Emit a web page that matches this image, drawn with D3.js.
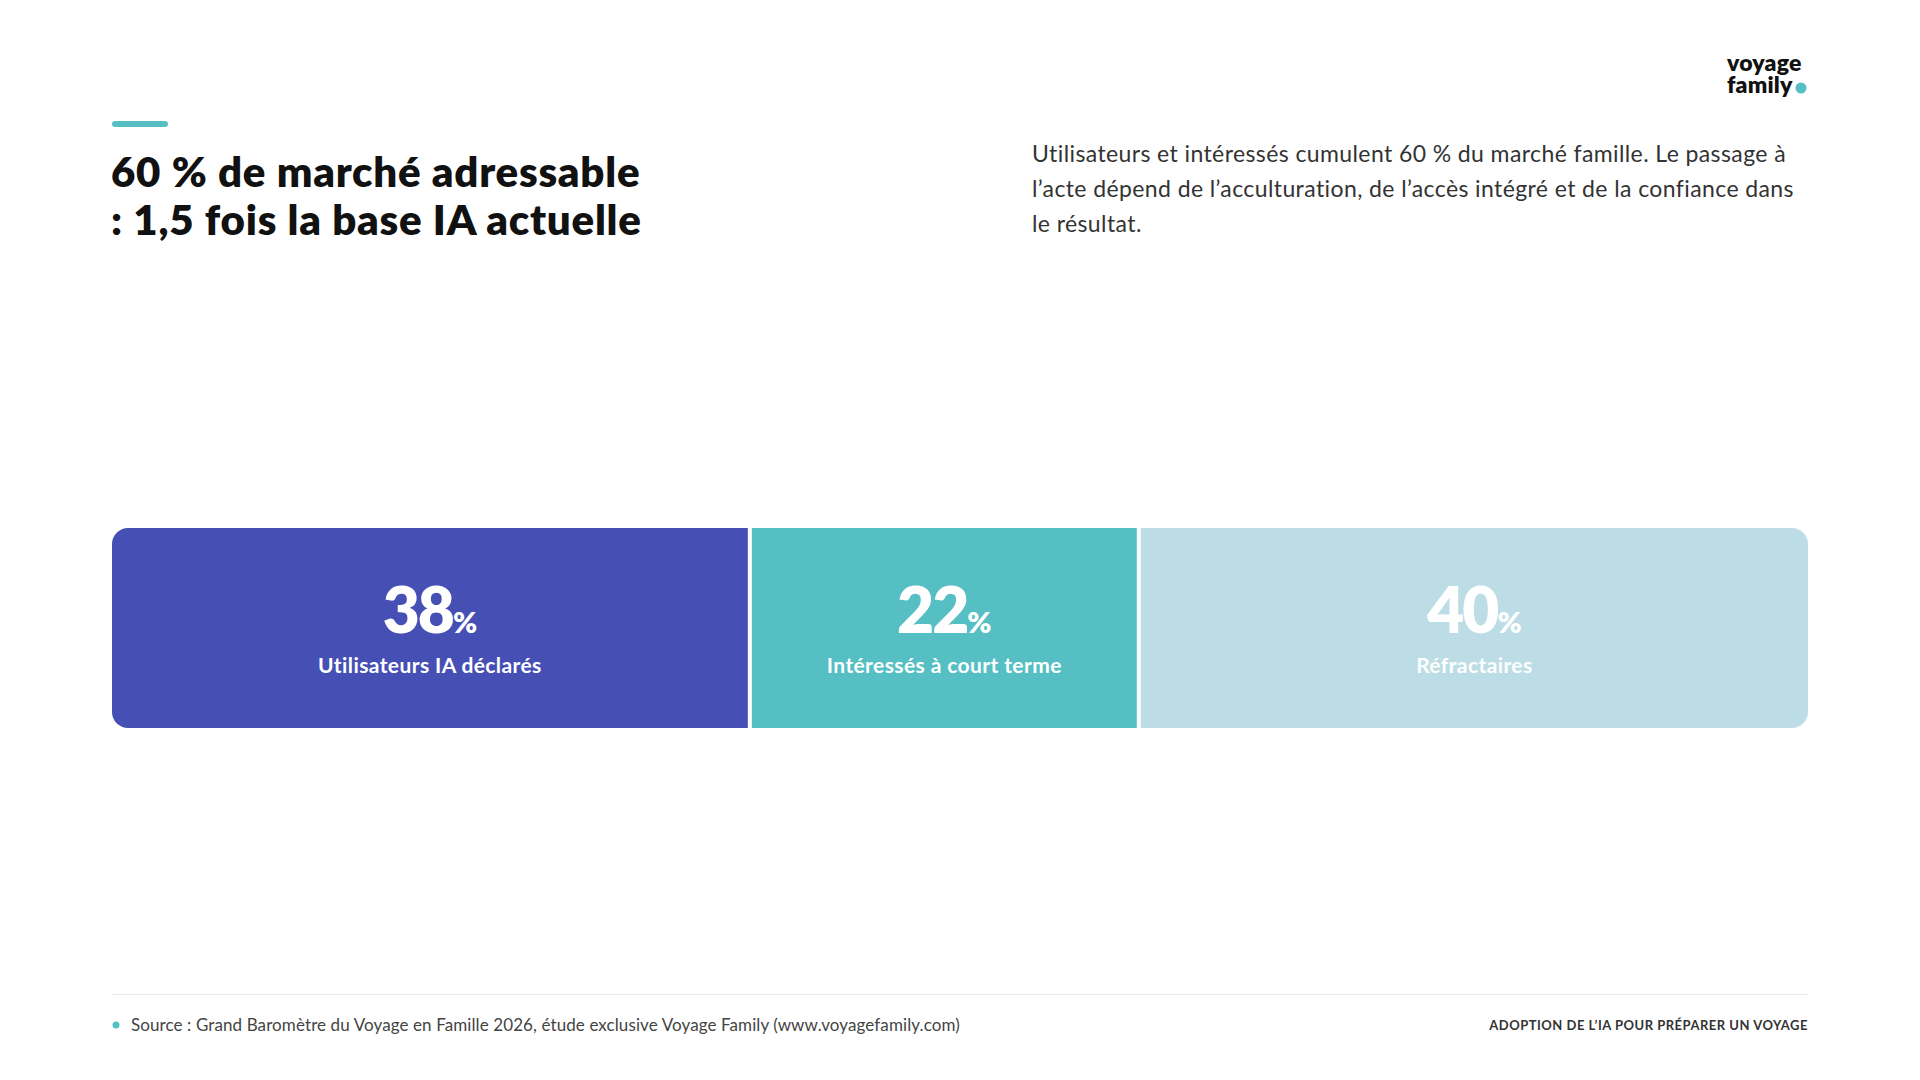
<!DOCTYPE html>
<html lang="fr">
    <head>
        <meta charset="utf-8">
        <title>Marché adressable IA</title>
        <script src="https://d3js.org/d3.v7.min.js"></script>
        <style type="text/css">
            html, body {
                margin: 0;
                padding: 0;
                background-color: #ffffff;
            }
            svg {
                display: block;
                font-family: Lato, "Open Sans", sans-serif;
            }
        </style>
    </head>
    <body>
        <script type="text/javascript">
            // data
            const categories = ["Utilisateurs IA déclarés", "Intéressés à court terme", "Réfractaires"];
            const values = [38, 22, 40];
            const colors = ["#464fb4", "#55bfc4", "#bcdde5"];

            const titleLines = ["60 % de marché adressable", ": 1,5 fois la base IA actuelle"];
            const introLines = [
                "Utilisateurs et intéressés cumulent 60 % du marché famille. Le passage à",
                "l’acte dépend de l’acculturation, de l’accès intégré et de la confiance dans",
                "le résultat."
            ];
            const sourceText = "Source : Grand Baromètre du Voyage en Famille 2026, étude exclusive Voyage Family (www.voyagefamily.com)";
            const footerTag = "ADOPTION DE L’IA POUR PRÉPARER UN VOYAGE";

            const w = 1920, h = 1080;
            const left = 112, right = 1808;
            const teal = "#55bfc4";

            const svg = d3.select("body").append("svg")
                          .attr("width", w)
                          .attr("height", h);

            // accent bar + title
            svg.append("rect")
               .attr("x", left).attr("y", 121)
               .attr("width", 56).attr("height", 6)
               .attr("rx", 3)
               .attr("fill", teal);

            svg.append("g").selectAll("text")
               .data(titleLines)
               .enter()
               .append("text")
               .attr("x", left - 1)
               .attr("y", (d, i) => 187 + i * 48)
               .attr("font-size", 42)
               .attr("font-weight", 800)
               .attr("letter-spacing", 0.75)
               .attr("fill", "#111111")
               .text(d => d);

            // intro paragraph
            svg.append("g").selectAll("text")
               .data(introLines)
               .enter()
               .append("text")
               .attr("x", 1032)
               .attr("y", (d, i) => 162 + i * 35)
               .attr("font-size", 23)
               .attr("letter-spacing", 0.4)
               .attr("fill", "#333333")
               .text(d => d);

            // logo (one text, two lines)
            const logo = svg.append("text")
                            .attr("font-weight", 800)
                            .attr("fill", "#111111")
                            .attr("font-size", 23)
                            .attr("letter-spacing", 0.2);
            logo.append("tspan").attr("x", 1727).attr("y", 71).text("voyage");
            logo.append("tspan").attr("x", 1727).attr("y", 93).text("family");
            svg.append("circle").attr("cx", 1801).attr("cy", 88).attr("r", 5.5).attr("fill", teal);

            // stacked bar: flex-like segments (padding + share of remaining width)
            const pad = 20, gap = 4;
            const inner = (right - left) - gap * (values.length - 1) - values.length * 2 * pad;
            const x = d3.scaleLinear().domain([0, d3.sum(values)]).range([0, inner]);
            const barTop = 528, barH = 200;

            let cursor = left;
            const segs = values.map((v, i) => {
                const width = 2 * pad + x(v);
                const seg = { label: categories[i], value: v, color: colors[i], x0: cursor, width: width };
                cursor += width + gap;
                return seg;
            });

            svg.append("clipPath").attr("id", "barClip")
               .append("rect")
               .attr("x", left).attr("y", barTop)
               .attr("width", right - left).attr("height", barH)
               .attr("rx", 16);

            const bars = svg.append("g").attr("clip-path", "url(#barClip)")
                            .selectAll("g.seg")
                            .data(segs)
                            .enter()
                            .append("g")
                            .attr("class", "seg");

            bars.append("rect")
                .attr("x", d => d.x0)
                .attr("y", barTop)
                .attr("width", d => d.width)
                .attr("height", barH)
                .attr("fill", d => d.color);

            const num = bars.append("text")
                .attr("x", d => d.x0 + d.width / 2)
                .attr("y", barTop + 105)
                .attr("text-anchor", "middle")
                .attr("fill", "#ffffff")
                .attr("font-weight", 800);
            num.append("tspan").attr("font-size", 64).attr("letter-spacing", -2).text(d => d.value);
            num.append("tspan").attr("font-size", 29).text("%");

            bars.append("text")
                .attr("x", d => d.x0 + d.width / 2)
                .attr("y", barTop + 145)
                .attr("text-anchor", "middle")
                .attr("fill", "#ffffff")
                .attr("font-size", 21)
                .attr("font-weight", 700)
                .attr("letter-spacing", 0.4)
                .text(d => d.label);

            // footer
            svg.append("line")
               .attr("x1", left).attr("x2", right)
               .attr("y1", 994.5).attr("y2", 994.5)
               .attr("stroke", "#e9e9e9").attr("stroke-width", 1);

            svg.append("circle").attr("cx", 116).attr("cy", 1025).attr("r", 3.5).attr("fill", teal);

            svg.append("text")
               .attr("x", 131).attr("y", 1031)
               .attr("font-size", 17)
               .attr("letter-spacing", 0.1)
               .attr("fill", "#444444")
               .text(sourceText);

            svg.append("text")
               .attr("x", right).attr("y", 1030)
               .attr("text-anchor", "end")
               .attr("font-size", 13)
               .attr("font-weight", 700)
               .attr("letter-spacing", 0.5)
               .attr("fill", "#333333")
               .text(footerTag);
        </script>
    </body>
</html>
